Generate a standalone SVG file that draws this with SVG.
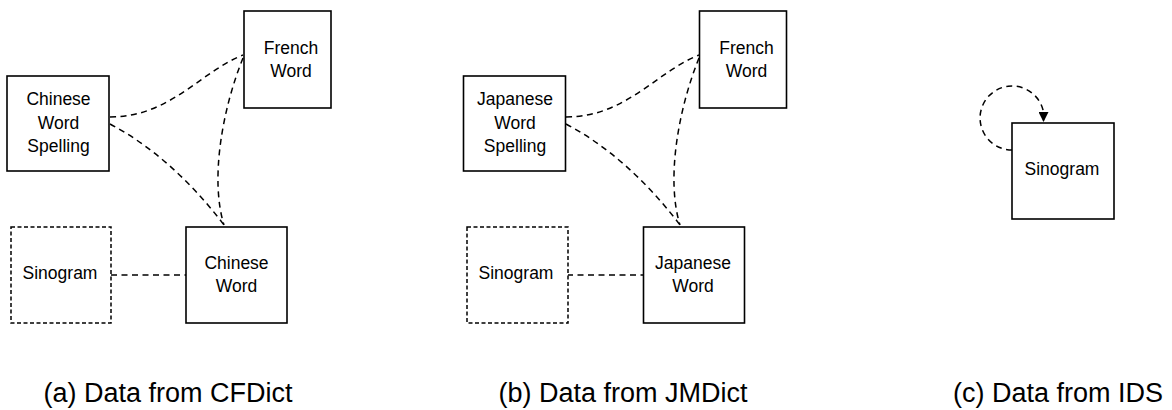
<svg xmlns="http://www.w3.org/2000/svg" width="1172" height="410" viewBox="0 0 1172 410">
<style>
  .box { fill: #fff; stroke: #000; stroke-width: 1.6; }
  .dbox { fill: #fff; stroke: #000; stroke-width: 1.5; stroke-dasharray: 4 2.5; }
  .lbl { font-family: "Liberation Sans", Arial, sans-serif; font-size: 17.5px; fill: #000; text-anchor: middle; }
  .cap { font-family: "Liberation Sans", Arial, sans-serif; font-size: 27px; fill: #000; text-anchor: middle; }
  .edge { fill: none; stroke: #000; stroke-width: 1.5; stroke-dasharray: 6 4.5; }
</style>
<defs>
  <marker id="arrow" viewBox="0 0 10 10" refX="10" refY="5" markerUnits="userSpaceOnUse" markerWidth="10" markerHeight="10" orient="auto">
    <path d="M0,0 L10,5 L0,10 z" fill="#000"/>
  </marker>
</defs>
<rect width="1172" height="410" fill="#fff"/>

<g id="connectors">
  <path class="edge" d="M110,117 C170,117 200,72 243,55"/>
  <path class="edge" d="M110,124 C150,145 190,180 224,225"/>
  <path class="edge" d="M243,58 C222,110 210,180 224,225"/>
  <path class="edge" d="M111,275 L186,275"/>
  <path class="edge" d="M566,117 C626,117 656,72 699,55"/>
  <path class="edge" d="M566,124 C606,145 646,180 680,225"/>
  <path class="edge" d="M699,58 C678,110 666,180 680,225"/>
  <path class="edge" d="M567,275 L643,275"/>
  <path class="edge" d="M1012,150 A32,32 0 1 1 1043.5,112 L1043.5,122" marker-end="url(#arrow)"/>
</g>

<g id="a-french-word">
  <rect class="box" x="244" y="11" width="87" height="97"/>
  <text class="lbl" x="291" y="54">French</text>
  <text class="lbl" x="291" y="77">Word</text>
</g>
<g id="a-chinese-word-spelling">
  <rect class="box" x="7" y="76" width="102" height="95"/>
  <text class="lbl" x="58.5" y="105">Chinese</text>
  <text class="lbl" x="58.5" y="128.5">Word</text>
  <text class="lbl" x="58.5" y="152">Spelling</text>
</g>
<g id="a-sinogram">
  <rect class="dbox" x="11" y="227" width="100" height="96"/>
  <text class="lbl" x="60" y="279">Sinogram</text>
</g>
<g id="a-chinese-word">
  <rect class="box" x="186" y="227" width="101" height="96"/>
  <text class="lbl" x="236.5" y="268.5">Chinese</text>
  <text class="lbl" x="236.5" y="292">Word</text>
</g>

<g id="b-french-word">
  <rect class="box" x="699.5" y="11" width="87" height="97"/>
  <text class="lbl" x="746.5" y="54">French</text>
  <text class="lbl" x="746.5" y="77">Word</text>
</g>
<g id="b-japanese-word-spelling">
  <rect class="box" x="463.5" y="76" width="102" height="95"/>
  <text class="lbl" x="515" y="105">Japanese</text>
  <text class="lbl" x="515" y="128.5">Word</text>
  <text class="lbl" x="515" y="152">Spelling</text>
</g>
<g id="b-sinogram">
  <rect class="dbox" x="467" y="227" width="101" height="96"/>
  <text class="lbl" x="516" y="279">Sinogram</text>
</g>
<g id="b-japanese-word">
  <rect class="box" x="643.5" y="227" width="101" height="96"/>
  <text class="lbl" x="693" y="268.5">Japanese</text>
  <text class="lbl" x="693" y="292">Word</text>
</g>

<g id="c-sinogram">
  <rect class="box" x="1012" y="123" width="102" height="96"/>
  <text class="lbl" x="1062" y="175">Sinogram</text>
</g>

<g id="captions">
  <text class="cap" x="168" y="402">(a) Data from CFDict</text>
  <text class="cap" x="623" y="402">(b) Data from JMDict</text>
  <text class="cap" x="1058" y="402">(c) Data from IDS</text>
</g>
</svg>
